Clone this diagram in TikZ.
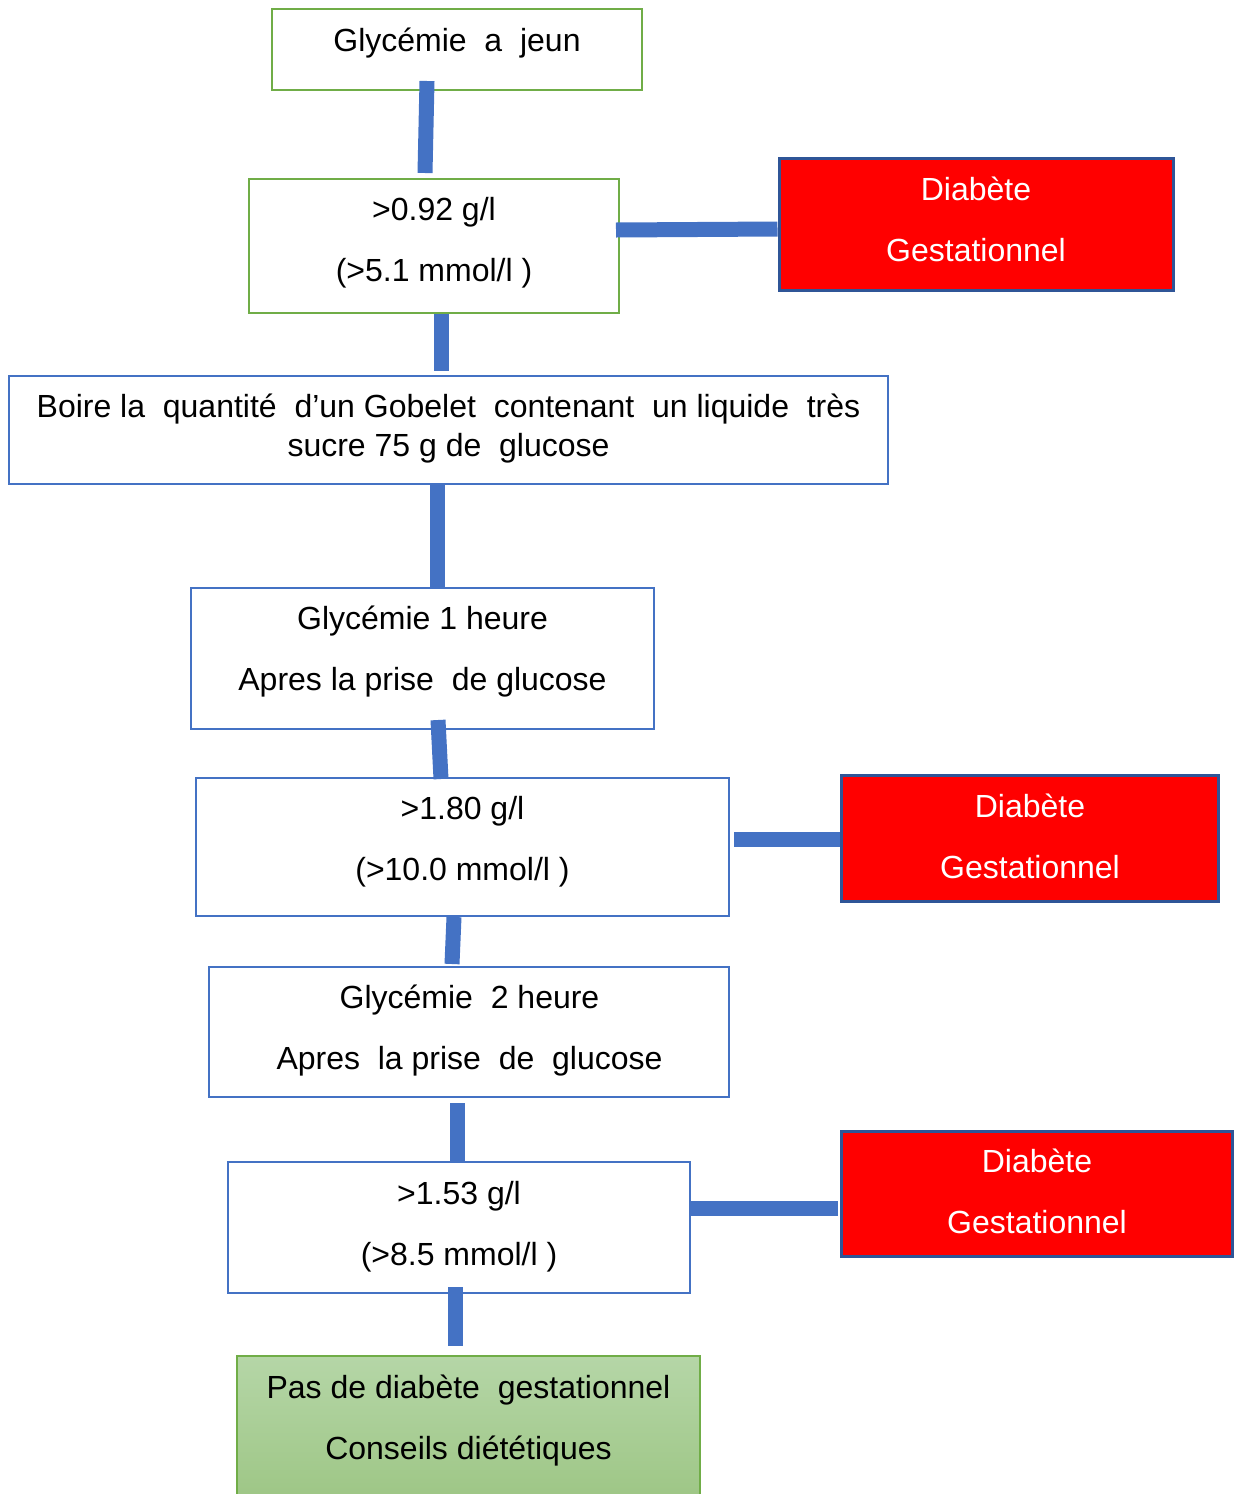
\documentclass[tikz,border=0pt]{standalone}
\usepackage{fontspec}
\setmainfont{Liberation Sans}
\usetikzlibrary{calc}
\definecolor{frameblue}{HTML}{4472C4}
\definecolor{framegreen}{HTML}{70AD47}
\definecolor{alertred}{HTML}{FF0000}
\definecolor{alertedge}{HTML}{2F5597}
\definecolor{okgreentop}{HTML}{B5D6A7}
\definecolor{okgreenbot}{HTML}{9CC583}
\begin{document}
\begin{tikzpicture}[x=1pt,y=-1pt,
  box/.style={draw=frameblue, line width=2pt, rectangle, inner sep=0pt},
  greenbox/.style={box, draw=framegreen},
  alertbox/.style={rectangle, inner sep=0pt, fill=alertred, draw=alertedge, line width=3pt},
  okbox/.style={rectangle, inner sep=0pt, draw=framegreen, line width=1.5pt,
                top color=okgreentop, bottom color=okgreenbot},
  txt/.style={align=center, font=\fontsize{32}{61}\selectfont, inner sep=0pt},
  wtxt/.style={txt, text=white},
  link/.style={draw=frameblue, line width=15pt}]
\useasboundingbox (0,0) rectangle (1241,1494);

% boxes
\node[greenbox, minimum width=370pt, minimum height=81pt]  (b1) at (457,49.5) {};
\node[greenbox, minimum width=370pt, minimum height=134pt] (b2) at (434,246) {};
\node[alertbox, minimum width=394pt, minimum height=132pt] (r1) at (976,224) {};
\node[box, minimum width=879pt, minimum height=108pt]      (b3) at (448.5,430) {};
\node[box, minimum width=463pt, minimum height=141pt]      (b4) at (422.5,658.5) {};
\node[box, minimum width=533pt, minimum height=138pt]      (b5) at (462.5,847) {};
\node[alertbox, minimum width=377pt, minimum height=126pt] (r2) at (1029.5,838) {};
\node[box, minimum width=520pt, minimum height=130pt]      (b6) at (469,1032) {};
\node[box, minimum width=462pt, minimum height=131pt]      (b7) at (459,1227.5) {};
\node[alertbox, minimum width=391pt, minimum height=125pt] (r3) at (1036.5,1193.5) {};
\node[okbox, minimum width=463pt, minimum height=154pt]    (g)  at (468.5,1433) {};

% texts
\node[txt] (t1) at (457,43) {Glycémie\ \ a\ \ jeun};
\node[txt] (t2) at (434,243) {>0.92 g/l\\(>5.1 mmol/l )};
\node[wtxt] (tr1) at (976,219.5) {Diabète\\Gestationnel};
\node[txt, font=\fontsize{32}{39}\selectfont] (t3) at (448.5,428.5)
  {Boire la\ \ quantité\ \ d’un Gobelet\ \ contenant\ \ un liquide\ \ très\\sucre 75 g de\ \ glucose};
\node[txt] (t4) at (422.5,651.5) {Glycémie 1 heure\\Apres la prise\ \ de glucose};
\node[txt] (t5) at (462.5,841.5) {>1.80 g/l\\(>10.0 mmol/l )};
\node[wtxt] (tr2) at (1030,836.5) {Diabète\\Gestationnel};
\node[txt] (t6) at (469.5,1031) {Glycémie\ \ 2 heure\\Apres\ \ la prise\ \ de\ \ glucose};
\node[txt] (t7) at (459,1226.5) {>1.53 g/l\\(>8.5 mmol/l )};
\node[wtxt] (tr3) at (1037,1191.5) {Diabète\\Gestationnel};
\node[txt] (tg) at (468.5,1420.5) {Pas de diabète\ \ gestationnel\\Conseils diététiques};

% connectors
\draw[link] ($(b1.south)+(-30,-10)$) -- ($(b2.north)+(-9,-5)$);
\draw[link] ($(b2.east)+(-4,-16)$) -- ($(r1.west)+(0,5)$);
\draw[link] ($(b2.south)+(7,0)$) -- ($(b3.north)+(-7.5,-4)$);
\draw[link] ($(b3.south)+(-11.5,0)$) -- ($(b4.north)+(14.5,0)$);
\draw[link] ($(b4.south)+(15.5,-10)$) -- ($(b5.north)+(-21.5,2)$);
\draw[link] ($(b5.east)+(4,-8)$) -- ($(r2.west)+(0,1)$);
\draw[link] ($(b5.south)+(-8.5,0)$) -- ($(b6.north)+(-17,-2)$);
\draw[link] ($(b6.south)+(-12,5)$) -- ($(b7.north)+(-2,0)$);
\draw[link] ($(b7.east)+(-2,-19.5)$) -- ($(r3.west)+(-2,14.5)$);
\draw[link] ($(b7.south)+(-4,-7)$) -- ($(g.north)+(-13.5,-9)$);
\end{tikzpicture}
\end{document}
